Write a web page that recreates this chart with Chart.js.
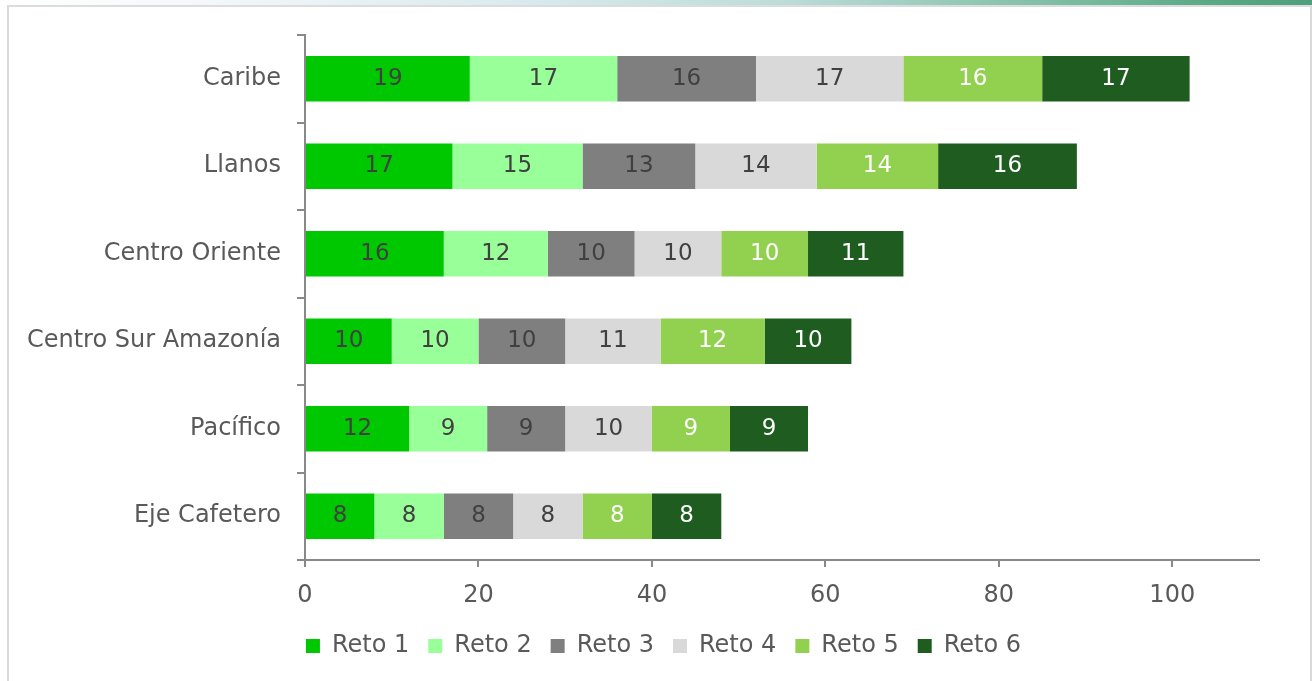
<!DOCTYPE html>
<html>
<head>
<meta charset="utf-8">
<script src="https://cdn.jsdelivr.net/npm/chart.js@4"></script>
<style>
  html, body { margin: 0; padding: 0; background: #ffffff; overflow: hidden; }
  body { width: 1312px; height: 681px; position: relative; }
  #strip { position: absolute; left: 0; top: 0; width: 1312px; height: 5px;
    background: linear-gradient(to right, #ffffff 0%, #f4f8f9 15%, #d9eaee 40%, #bcdcd8 60%, #86c2aa 78%, #5aa985 92%, #4f9f7c 100%); }
  #frame { position: absolute; left: 7px; top: 5px; width: 1305px; height: 700px;
    border-left: 2px solid #d9d9d9; border-top: 2px solid #dcdcdc; border-right: 2px solid #d9d9d9; box-sizing: border-box; }
  #wrap { position: absolute; left: 0; top: 0; width: 1312px; height: 681px; }
</style>
</head>
<body>
<div id="strip"></div>
<div id="frame"></div>
<div id="wrap"><canvas id="c"></canvas></div>
<script>
const categories = ["Caribe", "Llanos", "Centro Oriente", "Centro Sur Amazonía", "Pacífico", "Eje Cafetero"];
const seriesNames = ["Reto 1", "Reto 2", "Reto 3", "Reto 4", "Reto 5", "Reto 6"];
const reto1 = [19, 17, 16, 10, 12, 8];
const reto2 = [17, 15, 12, 10, 9, 8];
const reto3 = [16, 13, 10, 10, 9, 8];
const reto4 = [17, 14, 10, 11, 10, 8];
const reto5 = [16, 14, 10, 12, 9, 8];
const reto6 = [17, 16, 11, 10, 9, 8];
const xTickValues = [0, 20, 40, 60, 80, 100];

const seriesValues = [reto1, reto2, reto3, reto4, reto5, reto6];
const colors = ["#00C800", "#99FF99", "#7F7F7F", "#D9D9D9", "#92D050", "#1E5C20"];
const labelColors = ["#404040", "#404040", "#404040", "#404040", "#ffffff", "#ffffff"];
const FONT = "'DejaVu Sans', Verdana, sans-serif";
const LEGEND_SHIFT = 34;

const dataLabels = {
  id: 'dataLabels',
  afterLayout(chart) {
    const lg = chart.legend;
    if (lg) { lg.left += LEGEND_SHIFT; lg.right += LEGEND_SHIFT; }
  },
  afterDatasetsDraw(chart) {
    const ctx = chart.ctx;
    ctx.save();
    ctx.font = "23px " + FONT;
    ctx.textAlign = 'center';
    ctx.textBaseline = 'middle';
    chart.data.datasets.forEach((ds, i) => {
      const meta = chart.getDatasetMeta(i);
      if (meta.hidden) return;
      ctx.fillStyle = labelColors[i];
      meta.data.forEach((el, j) => {
        const p = el.getProps(['x', 'y', 'base'], true);
        ctx.fillText(String(ds.data[j]), (p.x + p.base) / 2, p.y);
      });
    });
    ctx.restore();
  }
};

new Chart(document.getElementById('c'), {
  type: 'bar',
  data: {
    labels: categories,
    datasets: seriesNames.map((n, i) => ({
      label: n,
      data: seriesValues[i],
      backgroundColor: colors[i],
      borderWidth: 0,
      barPercentage: 0.518,
      categoryPercentage: 1.0
    }))
  },
  options: {
    indexAxis: 'y',
    responsive: true,
    maintainAspectRatio: false,
    animation: false,
    devicePixelRatio: 1,
    layout: { padding: { left: 0, right: 53, top: 35, bottom: 13 } },
    scales: {
      x: {
        stacked: true,
        min: 0,
        max: 110,
        afterBuildTicks(scale) {
          scale.ticks = xTickValues.map(v => ({ value: v }));
        },
        afterFit(scale) { scale.height = 55; },
        ticks: {
          stepSize: 20,
          color: '#595959',
          font: { family: FONT, size: 24 },
          padding: 14
        },
        grid: { drawOnChartArea: false, drawTicks: true, tickLength: 7, color: '#898989', lineWidth: 2 },
        border: { display: true, color: '#898989', width: 2 }
      },
      y: {
        stacked: true,
        afterFit(scale) { scale.width = 305; },
        ticks: {
          color: '#595959',
          font: { family: FONT, size: 24 },
          padding: 16
        },
        grid: { drawOnChartArea: false, drawTicks: true, tickLength: 8, color: '#898989', lineWidth: 2, offset: true },
        border: { display: true, color: '#898989', width: 2 }
      }
    },
    plugins: {
      legend: {
        position: 'bottom',
        labels: {
          boxWidth: 14,
          boxHeight: 14,
          padding: 19,
          color: '#595959',
          font: { family: FONT, size: 24, lineHeight: 1 }
        }
      },
      tooltip: { enabled: false }
    }
  },
  plugins: [dataLabels]
});
</script>
</body>
</html>
